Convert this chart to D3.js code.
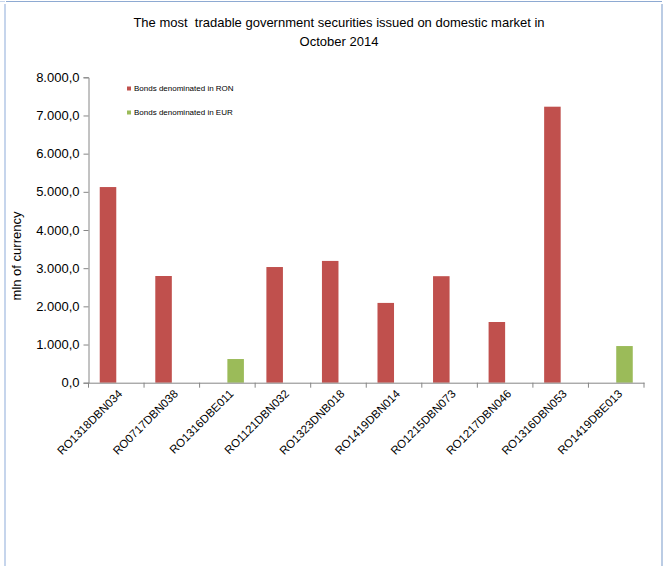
<!DOCTYPE html>
<html>
<head>
<meta charset="utf-8">
<script src="https://cdn.jsdelivr.net/npm/d3@7"></script>
<style>
  html, body { margin: 0; padding: 0; background: #fff; }
  svg { display: block; font-family: "Liberation Sans", Arial, sans-serif; }
</style>
</head>
<body>
<svg id="chart" width="663" height="566"></svg>
<script>
// Securities (x categories)
const categories = [
  "RO1318DBN034", "RO0717DBN038", "RO1316DBE011", "RO1121DBN032", "RO1323DNB018",
  "RO1419DBN014", "RO1215DBN073", "RO1217DBN046", "RO1316DBN053", "RO1419DBE013"
];
// Traded volume, mln of currency
const ronValues = [5125, 2795, null, 3030, 3190, 2090, 2790, 1590, 7230, null];
const eurValues = [null, null, 620, null, null, null, null, null, null, 960];
const seriesNames = ["Bonds denominated in RON", "Bonds denominated in EUR"];
const seriesColors = ["#c0504d", "#9bbb59"];
const yTicks = [0, 1000, 2000, 3000, 4000, 5000, 6000, 7000, 8000];
const titleLines = ["The most  tradable government securities issued on domestic market in", "October 2014"];
const yTitle = "mln of currency";

const svg = d3.select("#chart");
const axisColor = "#868686";

// frame
svg.append("line").attr("x1", 6).attr("x2", 662).attr("y1", 1.5).attr("y2", 1.5)
  .attr("stroke", "#8eaad2").attr("stroke-width", 1);
svg.append("line").attr("x1", 5).attr("x2", 5).attr("y1", 4).attr("y2", 566)
  .attr("stroke", "#c6d5ec").attr("stroke-width", 2);
svg.append("line").attr("x1", 662).attr("x2", 662).attr("y1", 4).attr("y2", 566)
  .attr("stroke", "#8eaad2").attr("stroke-width", 1.2);
svg.append("line").attr("x1", 0).attr("x2", 5).attr("y1", 1.5).attr("y2", 1.5)
  .attr("stroke", "#c6d5ec").attr("stroke-width", 1);

const x = d3.scaleBand().domain(categories).range([88.5, 644]).paddingInner(0).paddingOuter(0);
const xs = d3.scaleBand().domain(seriesNames).range([0, x.bandwidth()]).paddingInner(0).paddingOuter(0.68);
const y = d3.scaleLinear().domain([0, 8000]).range([382.7, 77.3]);

// title
svg.append("g").selectAll("text").data(titleLines).join("text")
  .attr("x", 339).attr("y", (d, i) => 27 + i * 18.5)
  .attr("text-anchor", "middle")
  .style("white-space", "pre")
  .attr("font-size", 13).attr("fill", "#000")
  .text(d => d);

// bars
const series = [ronValues, eurValues];
series.forEach((vals, si) => {
  svg.append("g").selectAll("rect")
    .data(categories.map((c, i) => ({ c, v: vals[i] })).filter(d => d.v != null))
    .join("rect")
    .attr("x", d => x(d.c) + xs(seriesNames[si]))
    .attr("width", xs.bandwidth())
    .attr("y", d => y(d.v))
    .attr("height", d => y(0) - y(d.v))
    .attr("fill", seriesColors[si]);
});

// y axis
const fmt = v => d3.format(",.1f")(v).replace(/,/g, "#").replace(".", ",").replace(/#/g, ".");
const yAxis = svg.append("g").attr("transform", "translate(88.5,0)")
  .call(d3.axisLeft(y).tickValues(yTicks).tickSize(5).tickPadding(4).tickFormat(fmt));
yAxis.select(".domain").attr("stroke", axisColor);
yAxis.selectAll(".tick line").attr("stroke", axisColor);
yAxis.selectAll("text").attr("font-size", 13).attr("fill", "#000")
  .attr("font-family", "Liberation Sans, Arial, sans-serif");

// x axis
const xAxis = svg.append("g").attr("transform", `translate(0,${y(0)})`)
  .call(d3.axisBottom(x).tickSize(0).tickPadding(8));
xAxis.select(".domain").attr("stroke", axisColor);
xAxis.selectAll(".tick line").remove();
// boundary tick marks between categories
const bounds = categories.map(c => x(c)).concat([x.range()[1]]);
xAxis.append("g").selectAll("line").data(bounds).join("line")
  .attr("x1", d => d).attr("x2", d => d).attr("y1", 0).attr("y2", 5)
  .attr("stroke", axisColor);
xAxis.selectAll(".tick text")
  .attr("font-size", 11.5).attr("fill", "#000")
  .attr("font-family", "Liberation Sans, Arial, sans-serif")
  .attr("text-anchor", "end")
  .attr("dy", "0.35em")
  .attr("transform", "translate(4,9) rotate(-45)")
  .attr("y", 0).attr("x", 0);

// y title
svg.append("text")
  .attr("transform", "translate(21,256) rotate(-90)")
  .attr("text-anchor", "middle").attr("font-size", 13).attr("fill", "#000")
  .text(yTitle);

// legend
const legend = svg.append("g").selectAll("g").data(seriesNames).join("g")
  .attr("transform", (d, i) => `translate(127,${88.5 + i * 24})`);
legend.append("rect").attr("x", 0).attr("y", -2).attr("width", 4).attr("height", 4)
  .attr("fill", (d, i) => seriesColors[i]);
legend.append("text").attr("x", 7).attr("y", 0).attr("dy", "0.35em")
  .attr("font-size", 8).attr("fill", "#000").text(d => d);
</script>
</body>
</html>
